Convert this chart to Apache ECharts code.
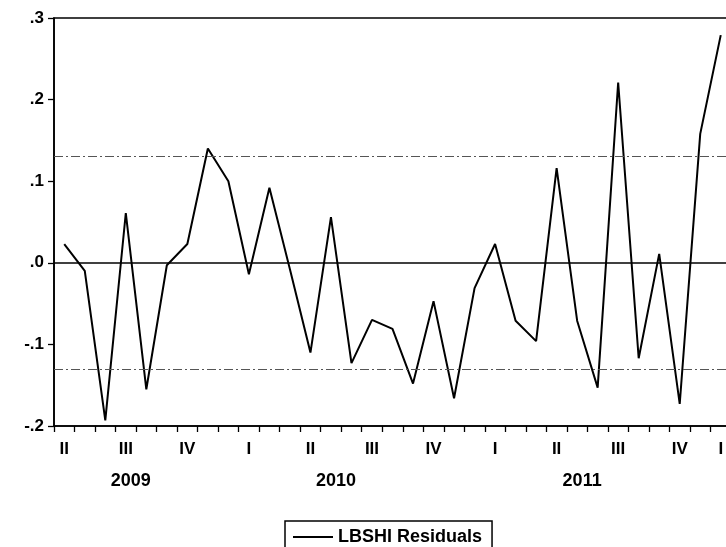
<!DOCTYPE html>
<html>
<head>
<meta charset="utf-8">
<script src="https://cdn.jsdelivr.net/npm/echarts@6/dist/echarts.min.js"></script>
<style>
  html, body { margin: 0; padding: 0; background: #fff; }
  #chart { width: 726px; height: 547px; }
</style>
</head>
<body>
<div id="chart"></div>
<script>
// monthly residuals, 2009M04 .. 2011M12
var months = [
  '2009M04','2009M05','2009M06','2009M07','2009M08','2009M09','2009M10','2009M11','2009M12',
  '2010M01','2010M02','2010M03','2010M04','2010M05','2010M06','2010M07','2010M08','2010M09',
  '2010M10','2010M11','2010M12',
  '2011M01','2011M02','2011M03','2011M04','2011M05','2011M06','2011M07','2011M08','2011M09',
  '2011M10','2011M11','2011M12'
];
var residuals = [
  0.023, -0.010, -0.193, 0.061, -0.155, -0.003, 0.023, 0.140, 0.100,
  -0.014, 0.092, -0.008, -0.110, 0.056, -0.123, -0.070, -0.081, -0.148,
  -0.047, -0.166, -0.031,
  0.023, -0.071, -0.096, 0.116, -0.071, -0.153, 0.221, -0.117, 0.011,
  -0.173, 0.158, 0.279
];
// quarter labels under the axis (one entry per month)
var quarterLabels = [
  'II','','','III','','','IV','','',
  'I','','','II','','','III','','',
  'IV','','',
  'I','','','II','','','III','','',
  'IV','','I'
];
var yearLabels = [];
months.forEach(function (m, i) { yearLabels.push(''); });
yearLabels[3] = '2009';
yearLabels[13] = '2010';
yearLabels[25] = '2011';

var zeroLevel = 0;
var bandLevels = [0.13, -0.13];
var seriesName = 'LBSHI Residuals';

var font = 'Liberation Sans, Arial, sans-serif';
var chart = echarts.init(document.getElementById('chart'));

var marks = [{ yAxis: zeroLevel, lineStyle: { color: '#000', width: 1.6, type: 'solid' } }];
bandLevels.forEach(function (b) {
  marks.push({ yAxis: b, lineStyle: { color: '#555', width: 1, type: [9, 3, 2, 3] } });
});

chart.setOption({
  animation: false,
  backgroundColor: '#fff',
  grid: {
    left: 54, top: 18, width: 677, height: 408,
    outerBoundsMode: 'none',
    show: true, borderColor: '#000', borderWidth: 1.6, backgroundColor: 'transparent'
  },
  legend: {
    left: 285, top: 521,
    data: [seriesName],
    icon: 'rect',
    itemWidth: 40, itemHeight: 2, itemGap: 0,
    borderColor: '#000', borderWidth: 1.5,
    padding: [7, 10, 7, 8],
    textStyle: { fontFamily: font, fontWeight: 'bold', fontSize: 18, color: '#000' }
  },
  xAxis: [{
    type: 'category',
    data: months,
    boundaryGap: true,
    axisLine: { onZero: false, lineStyle: { color: '#000', width: 1.6 } },
    axisTick: { show: true, interval: 0, length: 6, lineStyle: { color: '#000', width: 1.3 } },
    axisLabel: {
      interval: 0, margin: 15,
      fontFamily: font, fontWeight: 'bold', fontSize: 17, color: '#000',
      formatter: function (v, i) { return quarterLabels[i]; }
    },
    splitLine: { show: false }
  }, {
    type: 'category',
    data: months,
    position: 'bottom',
    boundaryGap: true,
    axisLine: { show: false, onZero: false },
    axisTick: { show: false },
    axisLabel: {
      interval: 0, margin: 46, padding: [0, 0, 0, 10],
      fontFamily: font, fontWeight: 'bold', fontSize: 18, color: '#000',
      formatter: function (v, i) { return yearLabels[i]; }
    },
    splitLine: { show: false }
  }],
  yAxis: {
    type: 'value',
    min: -0.2, max: 0.3, interval: 0.1,
    axisLine: { show: true, lineStyle: { color: '#000', width: 1.6 } },
    axisTick: { show: true, length: 6, lineStyle: { color: '#000', width: 1.3 } },
    axisLabel: {
      margin: 10,
      fontFamily: font, fontWeight: 'bold', fontSize: 17, color: '#000',
      formatter: function (v) { return v.toFixed(1).replace('0.', '.'); }
    },
    splitLine: { show: false }
  },
  series: [{
    name: seriesName,
    type: 'line',
    data: residuals,
    symbol: 'none',
    lineStyle: { color: '#000', width: 2 },
    itemStyle: { color: '#000' },
    markLine: { silent: true, symbol: 'none', label: { show: false }, data: marks }
  }]
});
</script>
</body>
</html>
